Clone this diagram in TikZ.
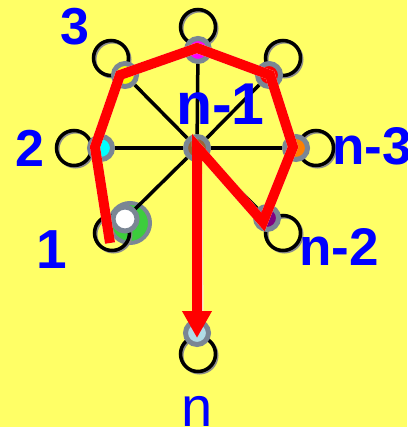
\documentclass[tikz,border=0pt]{standalone}
\usepackage{fontspec}
\setmainfont{Liberation Sans}
\usetikzlibrary{arrows.meta,shadows}
\definecolor{bg}{RGB}{255,255,102}
\definecolor{ring}{RGB}{122,134,148}
\definecolor{lblue}{RGB}{0,0,255}
\definecolor{vbrown}{RGB}{153,102,51}
\definecolor{vorange}{RGB}{255,128,0}
\definecolor{vpurple}{RGB}{128,0,128}
\definecolor{vlight}{RGB}{176,220,230}
\definecolor{vgreen}{RGB}{60,205,60}
\definecolor{vcyan}{RGB}{0,255,255}
\definecolor{vmagenta}{RGB}{255,0,255}
\definecolor{vyellow}{RGB}{255,255,0}
\definecolor{vred}{RGB}{255,0,0}
\definecolor{hl}{RGB}{250,250,235}
\tikzset{
  vtx/.style={circle, draw=ring, line width=5pt, minimum size=23pt, inner sep=0pt},
  loopc/.style={circle, draw=black, line width=3.5pt, minimum size=35pt, inner sep=0pt,
    drop shadow={opacity=1, fill=none, draw=black!45, line width=3pt, shadow xshift=1.5pt, shadow yshift=-1.5pt}},
  spoke/.style={draw=black, line width=3.5pt},
  lab/.style={text=lblue, inner sep=0pt, anchor=base},
  redpath/.style={draw=vred, line width=10pt, line join=miter, miter limit=6},
  hlpath/.style={draw=hl, line width=10pt, line join=miter, miter limit=6, xshift=1.5pt, yshift=-1.5pt}
}
\begin{document}
\begin{tikzpicture}[x=1pt,y=-1pt]
\useasboundingbox (0,0) rectangle (407,427);
\fill[bg] (0,0) rectangle (407,427);
\clip (0,0) rectangle (407,427);
% green disk behind node 1
\node[circle, draw=ring, line width=4pt, fill=vgreen, minimum size=40pt, inner sep=0pt] (g1) at (130,223) {};
% loops
\node[loopc] (lt) at (198,27) {};
\node[loopc] (l3) at (111,58) {};
\node[loopc] (lr) at (283,58) {};
\node[loopc] (l2) at (74,148) {};
\node[loopc] (ln3) at (316,148) {};
\node[loopc] (l1) at (112,233) {};
\node[loopc] (ln2) at (283,233) {};
\node[loopc] (ln) at (198,354) {};
% vertices
\node[vtx, fill=vbrown] (c) at (197,148) {};
\node[vtx, fill=vmagenta] (t) at (198,50) {};
\node[vtx, fill=vyellow] (v3) at (125,75) {};
\node[vtx, fill=vred] (vr) at (269,75) {};
\node[vtx, fill=vcyan] (v2) at (101,148) {};
\node[vtx, fill=vorange] (vn3) at (296,148) {};
\node[vtx, fill=white, minimum size=24pt] (v1) at (125,219) {};
\node[vtx, fill=vpurple] (vn2) at (267,218) {};
\node[vtx, fill=vlight] (vn) at (197,333) {};
% spokes
\foreach \v in {t,v3,vr,v2,vn3,v1,vn2} \draw[spoke] (c) -- (\v);
% labels
\node[lab, font=\bfseries\fontsize{52}{60}\selectfont] (L3) at (74.5,45) {3};
\node[lab, font=\bfseries\fontsize{52}{60}\selectfont] (L2) at (30,167) {2};
\node[lab, font=\bfseries\fontsize{55}{60}\selectfont] (L1) at (52,268) {1};
\node[lab, anchor=base west, font=\bfseries\fontsize{59}{66}\selectfont] (Ln1) at (176,125) {n-1};
\node[lab, anchor=base west, font=\bfseries\fontsize{53}{60}\selectfont] (Ln3) at (332,165) {n-3};
\node[lab, anchor=base west, font=\bfseries\fontsize{53}{60}\selectfont] (Ln2) at (299,265) {n-2};
\node[lab, font=\fontsize{56}{60}\selectfont] (Ln) at (197.5,426) {n};
% red path
\coordinate (p0) at (110,243);
\coordinate (p1) at (95,147);
\coordinate (p2) at (120,75);
\coordinate (p3) at (197,48);
\coordinate (p4) at (270,75);
\coordinate (p5) at (293,147);
\coordinate (p6) at (263,222);
\coordinate (p7) at (197,147);
\coordinate (p8) at (197,338);
\draw[hlpath] (p0) -- (p1) -- (p2) -- (p3) -- (p4) -- (p5) -- (p6) -- (p7) -- (197,312);
\draw[redpath, -{Triangle[length=27pt, width=28pt]}] (p0) -- (p1) -- (p2) -- (p3) -- (p4) -- (p5) -- (p6) -- (p7) -- (p8);
\end{tikzpicture}
\end{document}
